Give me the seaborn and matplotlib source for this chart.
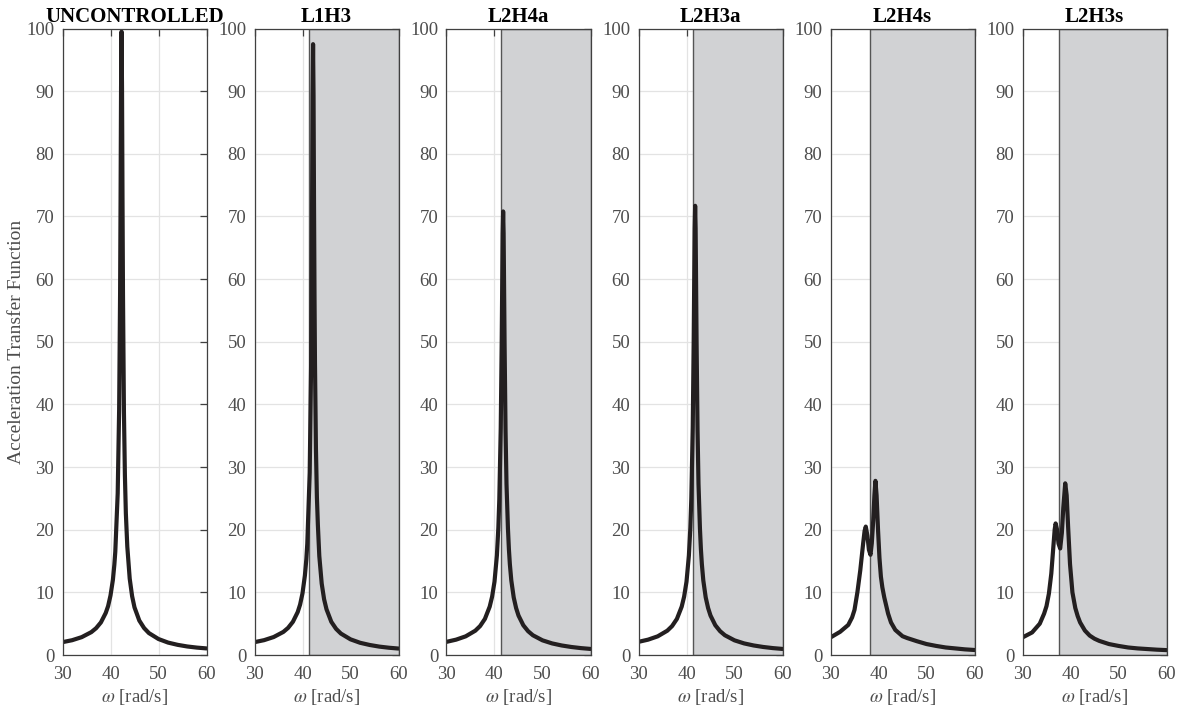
import numpy as np
import pandas as pd
import matplotlib
matplotlib.use("Agg")
import matplotlib.pyplot as plt
import seaborn as sns

# ---------------- data ----------------
titles = ["UNCONTROLLED", "L1H3", "L2H4a", "L2H3a", "L2H4s", "L2H3s"]
shade_start = [None, 41.45, 41.3, 41.25, 38.25, 37.7]

w_unc = [30, 32, 34, 36, 37, 38, 39, 39.5, 40, 40.5, 40.8, 41, 41.5, 41.8, 42.0, 42.1, 42.2, 42.3,
         42.4, 42.5, 42.6, 42.8, 43, 43.2, 43.5, 44, 44.5, 45, 46, 47, 48, 50, 52, 54, 56, 58, 60]
h_unc = [2.05, 2.36, 2.85, 3.65, 4.28, 5.2, 6.7, 7.8, 9.5, 12.0, 14.4, 16.5, 25.8, 39.2, 57.9, 72.9, 90.6, 99.5,
         90.5, 72.8, 57.7, 38.7, 28.7, 22.6, 17.3, 12.2, 9.4, 7.6, 5.5, 4.3, 3.5, 2.55, 1.98, 1.62, 1.36, 1.18, 1.05]

w_l1h3 = [30, 32, 34, 36, 37, 38, 39, 39.5, 40, 40.5, 40.8, 41, 41.5, 41.8, 42.0, 42.1, 42.2, 42.3,
          42.4, 42.5, 42.6, 42.8, 43, 43.2, 43.5, 44, 44.5, 45, 46, 47, 48, 50, 52, 54, 56, 58, 60]
h_l1h3 = [2.05, 2.37, 2.87, 3.68, 4.33, 5.3, 6.85, 8.05, 9.85, 12.7, 15.3, 17.8, 29.1, 46.7, 72.3, 89.3, 97.5, 89.3,
          72.0, 57.5, 46.5, 32.9, 25.2, 20.8, 15.8, 11.4, 8.9, 7.3, 5.3, 4.17, 3.42, 2.5, 1.95, 1.6, 1.34, 1.16, 1.03]

w_l2h4a = [30, 32, 34, 36, 37, 38, 39, 39.5, 40, 40.5, 40.8, 41, 41.3, 41.5, 41.7, 41.8, 41.9, 42.0,
           42.1, 42.3, 42.5, 42.8, 43, 43.2, 43.5, 44, 44.5, 45, 46, 47, 48, 50, 52, 54, 56, 58, 60]
h_l2h4a = [2.1, 2.45, 2.98, 3.88, 4.62, 5.76, 7.72, 9.3, 11.7, 15.9, 20.3, 24.8, 36.2, 50.0, 67.3, 70.8, 67.3, 58.4,
           49.6, 35.8, 27.3, 20.2, 16.9, 14.5, 11.9, 9.2, 7.5, 6.3, 4.75, 3.8, 3.15, 2.34, 1.85, 1.52, 1.28, 1.1, 0.97]

w_l2h3a = [30, 32, 34, 36, 37, 38, 39, 39.5, 40, 40.5, 40.8, 41, 41.3, 41.5, 41.7, 41.8, 41.9, 42.0,
           42.1, 42.3, 42.5, 42.8, 43, 43.2, 43.5, 44, 44.5, 45, 46, 47, 48, 50, 52, 54, 56, 58, 60]
h_l2h3a = [2.1, 2.45, 2.98, 3.88, 4.62, 5.76, 7.72, 9.3, 11.7, 15.9, 20.3, 24.9, 36.3, 50.3, 68.1, 71.7, 68.1, 58.9,
           49.9, 35.9, 27.3, 20.2, 16.9, 14.5, 11.9, 9.2, 7.5, 6.3, 4.75, 3.8, 3.15, 2.34, 1.85, 1.52, 1.28, 1.1, 0.97]

w_l2h4s = [30, 32, 33.7, 34.5, 35, 35.6, 36.2, 36.8, 37.1, 37.35, 37.7, 38.0, 38.33, 38.6, 38.9, 39.15,
           39.36, 39.6, 39.9, 40.2, 40.5, 40.8, 41.2, 42, 42.6, 43.5, 45, 46, 48, 50, 52, 54, 56, 58, 60]
h_l2h4s = [2.8, 3.7, 4.8, 6.0, 7.2, 10.0, 13.5, 17.8, 19.8, 20.5, 19.0, 16.8, 16.0, 17.8, 21.5, 25.5,
           27.8, 25.5, 20.0, 15.5, 12.5, 10.8, 9.2, 6.6, 5.2, 4.0, 3.0, 2.7, 2.2, 1.75, 1.45, 1.2, 1.05, 0.9, 0.8]

w_l2h3s = [30, 32, 33.6, 34.5, 35, 35.5, 36, 36.4, 36.7, 36.9, 37.2, 37.5, 37.85, 38.2, 38.5, 38.9,
           39.2, 39.5, 39.9, 40.4, 41, 41.5, 42, 43, 44, 45, 46, 48, 50, 52, 54, 56, 58, 60]
h_l2h3s = [2.8, 3.6, 5.0, 6.6, 7.8, 9.8, 13.0, 17.0, 20.0, 21.0, 20.0, 17.8, 17.0, 19.5, 23.5, 27.4,
           25.5, 20.5, 14.5, 10.0, 7.5, 6.2, 5.2, 3.9, 3.1, 2.6, 2.25, 1.75, 1.45, 1.2, 1.05, 0.95, 0.85, 0.78]

x_ticks = [30, 40, 50, 60]
y_ticks = [0, 10, 20, 30, 40, 50, 60, 70, 80, 90, 100]

series = [(w_unc, h_unc), (w_l1h3, h_l1h3), (w_l2h4a, h_l2h4a),
          (w_l2h3a, h_l2h3a), (w_l2h4s, h_l2h4s), (w_l2h3s, h_l2h3s)]

# ---------------- style ----------------
sns.set_theme(style="white")
plt.rcParams["font.family"] = ["Liberation Serif", "DejaVu Serif"]
plt.rcParams["mathtext.fontset"] = "stix"

tick_color = "#4d4d4d"
axis_color = "#404040"
grid_color = "#e3e3e3"
shade_color = "#d1d2d4"
line_color = "#231f20"

fig = plt.figure(figsize=(11.82, 7.09), dpi=100)

left0 = 62.5 / 1182
width = 144 / 1182
step = 192 / 1182
bottom = 1 - 655 / 709
height = (655 - 28.5) / 709

for i, (title, (w, h), s0) in enumerate(zip(titles, series, shade_start)):
    ax = fig.add_axes([left0 + i * step, bottom, width, height])
    df = pd.DataFrame({"omega": w, "H": h})
    ax.set_xlim(30, 60)
    ax.set_ylim(0, 100)
    ax.set_xticks(x_ticks)
    ax.set_yticks(y_ticks)
    ax.grid(True, color=grid_color, linewidth=0.9, zorder=0)
    ax.set_axisbelow(True)
    if s0 is not None:
        ax.axvspan(s0, 60, facecolor=shade_color, edgecolor="#555555",
                   linewidth=1.0, zorder=1)
    sns.lineplot(data=df, x="omega", y="H", ax=ax, color=line_color,
                 linewidth=3.0, zorder=3, estimator=None, sort=False)
    ax.set_title(title, fontsize=15, fontweight="bold", color="black", pad=5)
    ax.set_xlabel(r"$\omega$ [rad/s]", fontsize=13.5, color=tick_color, labelpad=3)
    if i == 0:
        ax.set_ylabel("Acceleration Transfer Function", fontsize=14,
                      color=tick_color)
        ax.yaxis.set_label_coords(-37 / 144, 0.5)
    else:
        ax.set_ylabel("")
    ax.tick_params(axis="both", which="both", direction="in", length=5,
                   width=0.9, color=axis_color, labelcolor=tick_color,
                   labelsize=13.5, top=True, right=True)
    ax.tick_params(axis="x", pad=8)
    ax.tick_params(axis="y", pad=6)
    for sp in ax.spines.values():
        sp.set_visible(True)
        sp.set_color(axis_color)
        sp.set_linewidth(0.9)
        sp.set_zorder(4)

fig.savefig("out.png", dpi=100)
